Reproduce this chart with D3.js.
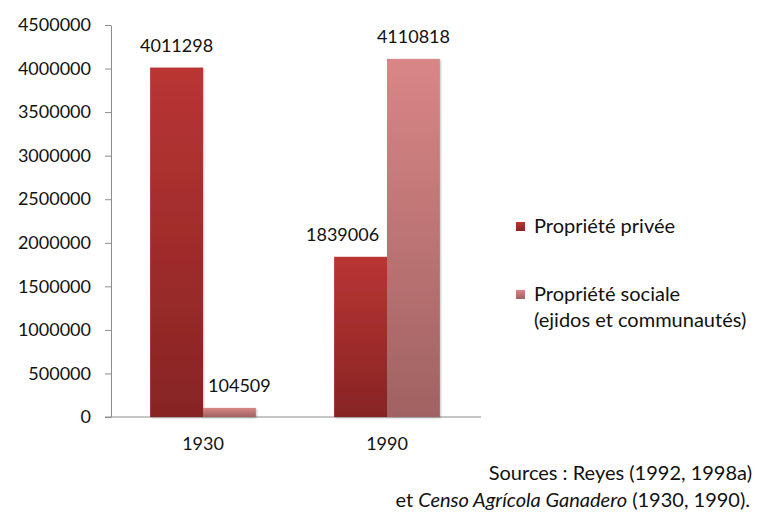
<!DOCTYPE html>
<meta charset="utf-8">
<style>
    body { margin: 0; background: #fff; }
    text { font-family: Lato, "Open Sans", sans-serif; fill: #111; }
    .axis path, .axis line { stroke: #8c8c8c; }
</style>
<svg width="758" height="512"></svg>
<script src="https://cdn.jsdelivr.net/npm/d3@7"></script>
<script>
    // data
    var years = ["1930", "1990"];
    var series = ["Propriété privée", "Propriété sociale"];
    var prive = [4011298, 1839006];
    var sociale = [104509, 4110818];
    var yTicks = [0, 500000, 1000000, 1500000, 2000000, 2500000, 3000000, 3500000, 4000000, 4500000];

    var svg = d3.select("svg");

    var x = d3.scaleBand().domain(years).range([111, 479]).paddingInner(0).paddingOuter(0);
    var xs = d3.scaleBand().domain(series).range([0, x.bandwidth()]).paddingInner(0).paddingOuter(0.74);
    var y = d3.scaleLinear().domain([0, 4500000]).range([417, 25]);

    var defs = svg.append("defs");
    var grads = [
        { id: "g0", top: "#b93533", bottom: "#872424" },
        { id: "g1", top: "#d98686", bottom: "#a06262" }
    ];
    grads.forEach(function(g) {
        var lg = defs.append("linearGradient").attr("id", g.id)
            .attr("x1", 0).attr("y1", 0).attr("x2", 0).attr("y2", 1);
        lg.append("stop").attr("offset", "0%").attr("stop-color", g.top);
        lg.append("stop").attr("offset", "100%").attr("stop-color", g.bottom);
    });
    var shadow = defs.append("filter").attr("id", "sh").attr("x", "-20%").attr("y", "-20%").attr("width", "140%").attr("height", "140%");
    shadow.append("feDropShadow").attr("dx", 1).attr("dy", 1).attr("stdDeviation", 1.2).attr("flood-opacity", 0.25);

    // y axis
    var yAxis = svg.append("g").attr("class", "axis")
        .attr("transform", "translate(111,0)")
        .call(d3.axisLeft(y).tickValues(yTicks).tickFormat(d3.format("d")).tickSize(6).tickSizeOuter(0).tickPadding(14));
    yAxis.selectAll("text").style("font-size", "18px").attr("fill", "#111");

    // baseline
    svg.append("line").attr("x1", 105).attr("x2", 481)
        .attr("y1", y(0)).attr("y2", y(0)).attr("stroke", "#8c8c8c");

    // x labels
    var xAxis = svg.append("g").attr("class", "axis")
        .attr("transform", "translate(0," + y(0) + ")")
        .call(d3.axisBottom(x).tickSize(0).tickPadding(20));
    xAxis.select(".domain").remove();
    xAxis.selectAll("text").style("font-size", "18px").attr("fill", "#111");

    var rows = [];
    years.forEach(function(yr, i) {
        rows.push({ year: yr, s: series[0], v: prive[i], g: "g0" });
        rows.push({ year: yr, s: series[1], v: sociale[i], g: "g1" });
    });
    var labelShift = [0, 10, -18, 0];

    svg.append("g").selectAll("rect").data(rows).enter().append("rect")
        .attr("x", function(d) { return x(d.year) + xs(d.s); })
        .attr("width", xs.bandwidth())
        .attr("y", function(d) { return y(d.v); })
        .attr("height", function(d) { return y(0) - y(d.v); })
        .attr("fill", function(d) { return "url(#" + d.g + ")"; })
        .attr("filter", "url(#sh)");

    svg.append("g").selectAll("text").data(rows).enter().append("text")
        .attr("x", function(d, i) { return x(d.year) + xs(d.s) + xs.bandwidth() / 2 + labelShift[i]; })
        .attr("y", function(d) { return y(d.v) - 16; })
        .attr("text-anchor", "middle")
        .style("font-size", "18px")
        .text(function(d) { return d.v; });

    // legend
    var legend = svg.append("g");
    var legendLines = [["Propriété privée"], ["Propriété sociale", "(ejidos et communautés)"]];
    legendLines.forEach(function(lines, i) {
        var ly = 226 + i * 68;
        legend.append("rect").attr("x", 516).attr("y", ly - 4).attr("width", 9).attr("height", 9)
            .attr("fill", "url(#" + grads[i].id + ")");
        lines.forEach(function(t, j) {
            legend.append("text").attr("x", 534).attr("y", ly + 7 + j * 26)
                .style("font-size", "20px").text(t);
        });
    });

    // sources
    var src = svg.append("g").style("font-size", "20px");
    src.append("text").attr("x", 752).attr("y", 480).attr("text-anchor", "end")
        .text("Sources : Reyes (1992, 1998a)");
    var t2 = src.append("text").attr("x", 750).attr("y", 507).attr("text-anchor", "end");
    t2.append("tspan").text("et ");
    t2.append("tspan").style("font-style", "italic").text("Censo Agrícola Ganadero");
    t2.append("tspan").text(" (1930, 1990).");
</script>
